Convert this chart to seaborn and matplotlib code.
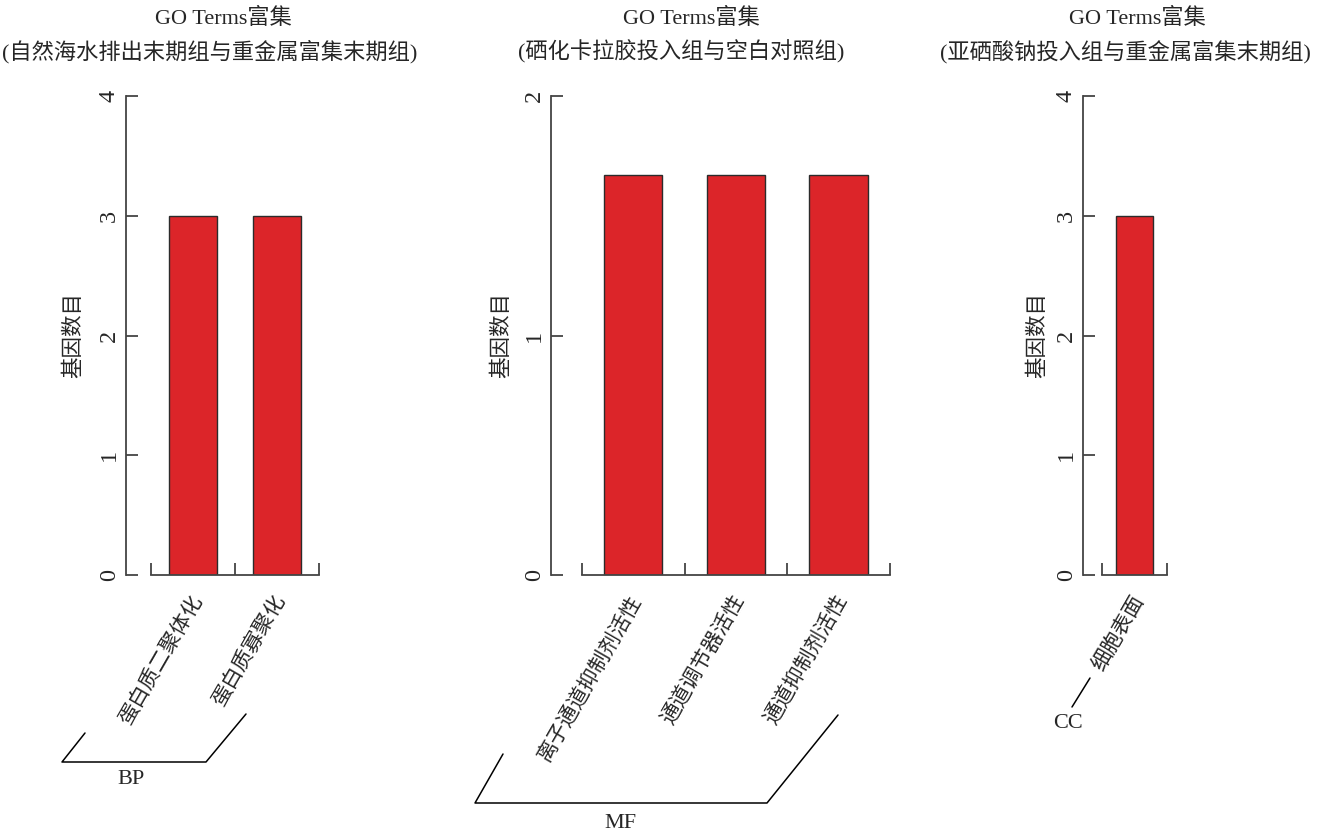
import numpy as np
import pandas as pd
import matplotlib
matplotlib.use("Agg")
import matplotlib.pyplot as plt
from matplotlib.lines import Line2D
from matplotlib.transforms import ScaledTranslation
import seaborn as sns

# ---- data -------------------------------------------------------------
bp_terms = ["蛋白质二聚体化", "蛋白质寡聚化"]
bp_counts = [3, 3]

mf_terms = ["离子通道抑制剂活性", "通道调节器活性", "通道抑制剂活性"]
mf_counts = [1.67, 1.67, 1.67]

cc_terms = ["细胞表面"]
cc_counts = [3]

title_main = "GO Terms富集"
subtitles = [
    "(自然海水排出末期组与重金属富集末期组)",
    "(硒化卡拉胶投入组与空白对照组)",
    "(亚硒酸钠投入组与重金属富集末期组)",
]
group_names = ["BP", "MF", "CC"]
y_ticks = [[0, 1, 2, 3, 4], [0, 1, 2], [0, 1, 2, 3, 4]]
y_label = "基因数目"

# ---- style ------------------------------------------------------------
sns.set_style("ticks")
plt.rcParams["font.family"] = ["Liberation Serif", "Noto Sans CJK SC", "DejaVu Sans"]
plt.rcParams["axes.unicode_minus"] = False

W, H = 1318, 834
fig = plt.figure(figsize=(W / 100, H / 100), dpi=100)

BAR_COLOR = "#DC2529"
EDGE = "#2b2b2b"
SPINE = "#444444"
FS = 16


def fx(x):
    return x / W


def fy(y):
    return 1 - y / H


def add_axes_px(left, right, top, bottom):
    return fig.add_axes([fx(left), fy(bottom), (right - left) / W, (bottom - top) / H])


panels = [
    dict(terms=bp_terms, counts=bp_counts, rect=(126, 319), ymax=4,
         tcx=(223, 210), ylab_x=-0.215),
    dict(terms=mf_terms, counts=mf_counts, rect=(551, 890), ymax=2,
         tcx=(691, 681), ylab_x=-0.113),
    dict(terms=cc_terms, counts=cc_counts, rect=(1083, 1167), ymax=4,
         tcx=(1137, 1125), ylab_x=-0.42),
]

label_shift = ScaledTranslation(5 / 100, 0, fig.dpi_scale_trans)

for i, p in enumerate(panels):
    ax = add_axes_px(p["rect"][0], p["rect"][1], 96, 575)
    n = len(p["terms"])
    df = pd.DataFrame({"term": p["terms"], "count": p["counts"]})
    sns.barplot(data=df, x="term", y="count", ax=ax, color=BAR_COLOR,
                width=0.57, edgecolor=EDGE, linewidth=1.0, saturation=1)
    ax.set_xlim(-0.8, n - 0.5)
    ax.set_ylim(0, p["ymax"])

    for s in ("top", "right"):
        ax.spines[s].set_visible(False)
    for s in ("left", "bottom"):
        ax.spines[s].set_color(SPINE)
        ax.spines[s].set_linewidth(1.3)
    ax.spines["bottom"].set_bounds(-0.5, n - 0.5)

    # y axis: inward ticks, vertical labels
    ax.set_yticks(y_ticks[i])
    ax.tick_params(axis="y", direction="in", length=8.6, width=1.3, color=SPINE,
                   pad=4.5, labelsize=17.5)
    for t in ax.get_yticklabels():
        t.set_rotation(90)
        t.set_va("center")
    ax.set_ylabel(y_label, fontsize=15.5)
    ax.yaxis.set_label_coords(p["ylab_x"], 0.5)

    # x axis: bracket ticks at category boundaries, slanted category labels
    ax.set_xticks(np.arange(n))
    ax.set_xticks(np.arange(n + 1) - 0.5, minor=True)
    ax.set_xticklabels(p["terms"])
    ax.tick_params(axis="x", which="major", length=0, pad=16, labelsize=15)
    ax.tick_params(axis="x", which="minor", direction="in", length=8.6,
                   width=1.3, color=SPINE)
    for t in ax.get_xticklabels():
        t.set_rotation(60)
        t.set_rotation_mode("anchor")
        t.set_ha("right")
        t.set_va("center")
        t.set_transform(t.get_transform() + label_shift)
    ax.set_xlabel("")

    # two-line panel title
    fig.text(fx(p["tcx"][0]), fy(18), title_main, ha="center", va="center", fontsize=FS)
    fig.text(fx(p["tcx"][1]), fy(52), subtitles[i], ha="center", va="center", fontsize=FS)


def bracket(points, label, label_xy):
    xs = [fx(x) for x, _ in points]
    ys = [fy(y) for _, y in points]
    fig.add_artist(Line2D(xs, ys, color="black", linewidth=1.1))
    fig.text(fx(label_xy[0]), fy(label_xy[1]), label, ha="center", va="center",
             fontsize=FS)


# GO category brackets under the slanted labels
bracket([(85, 733), (62, 762), (206, 762), (246, 714)], group_names[0], (131, 779))
bracket([(503, 754), (475, 803), (767, 803), (838, 715)], group_names[1], (620, 823))
bracket([(1090, 678), (1072, 707)], group_names[2], (1068, 724))

fig.savefig("out.png", dpi=100)
